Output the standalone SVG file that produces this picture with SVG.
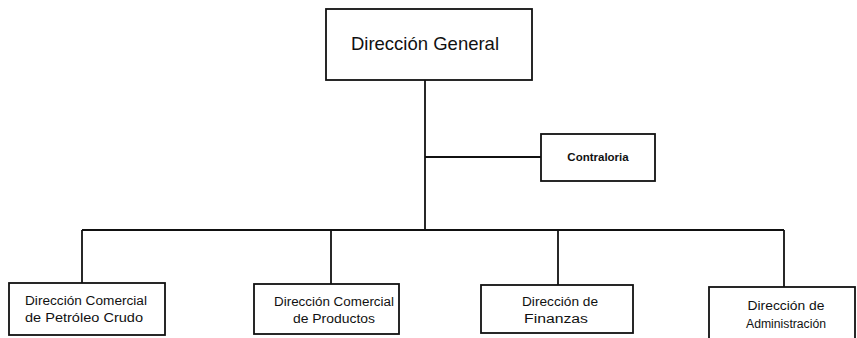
<svg xmlns="http://www.w3.org/2000/svg" width="857" height="338" viewBox="0 0 857 338">
<style>
.box{fill:#fff;stroke:#111;stroke-width:1.8}
.ln{fill:none;stroke:#111;stroke-width:1.8}
.t{font-family:"Liberation Sans",Arial,sans-serif;fill:#111;text-anchor:middle}
.s{font-size:12px}
</style>
<rect width="857" height="338" fill="#fff"/>
<g id="connectors">
<path class="ln" d="M425,80 V230"/>
<path class="ln" d="M425,157 H541"/>
<path class="ln" d="M82,230 H784"/>
<path class="ln" d="M82,230 V283"/>
<path class="ln" d="M331,230 V284"/>
<path class="ln" d="M558,230 V285"/>
<path class="ln" d="M784,230 V287"/>
</g>
<g id="n-general">
<rect class="box" x="326" y="9" width="206" height="71"/>
<text class="t" x="425" y="50" font-size="18.5">Dirección General</text>
</g>
<g id="n-contraloria">
<rect class="box" x="541" y="134" width="114" height="47"/>
<text class="t" x="598" y="161" font-size="11.5" font-weight="bold">Contraloria</text>
</g>
<g id="n-petroleo">
<rect class="box" x="9" y="283" width="156" height="52"/>
<text class="t s" x="86" y="305" textLength="122" lengthAdjust="spacingAndGlyphs">Dirección Comercial</text>
<text class="t s" x="84" y="322" textLength="118" lengthAdjust="spacingAndGlyphs">de Petróleo Crudo</text>
</g>
<g id="n-productos">
<rect class="box" x="254" y="284" width="145" height="50"/>
<text class="t s" x="334" y="306" textLength="120" lengthAdjust="spacingAndGlyphs">Dirección Comercial</text>
<text class="t s" x="334" y="323" textLength="82" lengthAdjust="spacingAndGlyphs">de Productos</text>
</g>
<g id="n-finanzas">
<rect class="box" x="481" y="285" width="152" height="48"/>
<text class="t s" x="560" y="306" textLength="76" lengthAdjust="spacingAndGlyphs">Dirección de</text>
<text class="t s" x="556" y="323" textLength="64" lengthAdjust="spacingAndGlyphs">Finanzas</text>
</g>
<g id="n-administracion">
<rect class="box" x="709" y="287" width="146" height="60"/>
<text class="t s" x="786" y="310" textLength="77" lengthAdjust="spacingAndGlyphs">Dirección de</text>
<text class="t s" x="786" y="328" textLength="80" lengthAdjust="spacingAndGlyphs">Administración</text>
</g>
</svg>
